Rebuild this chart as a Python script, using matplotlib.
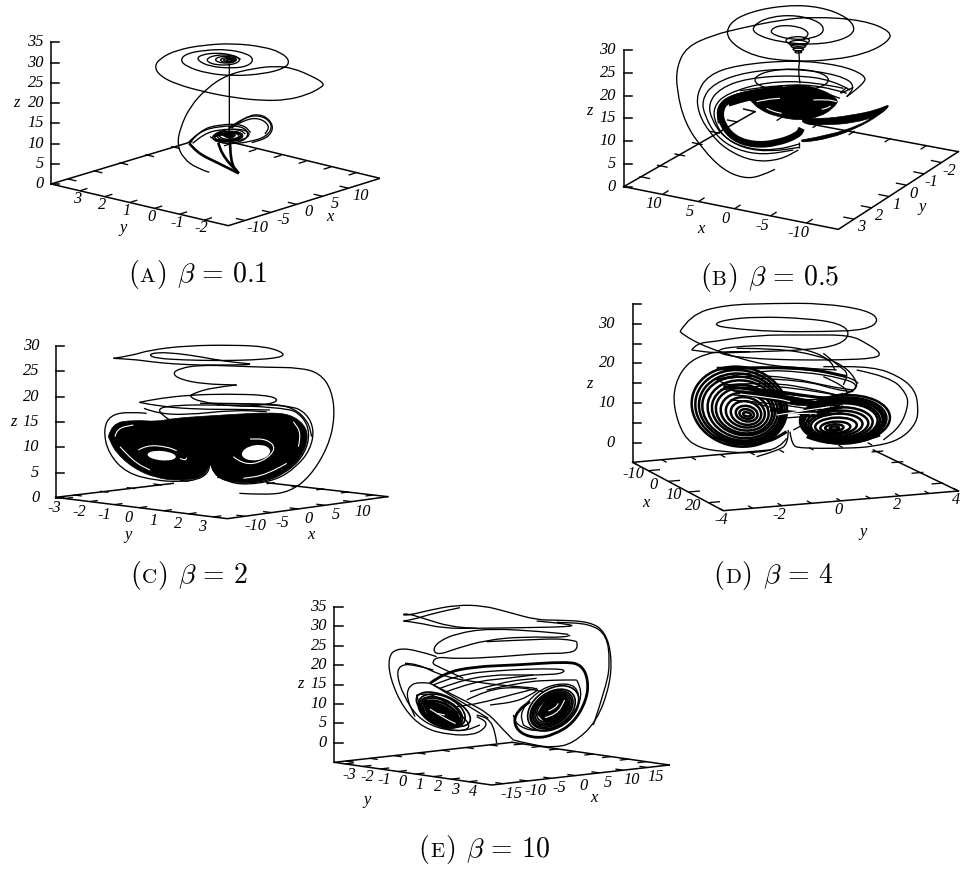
import numpy as np
import matplotlib
matplotlib.use('Agg')
import matplotlib.pyplot as plt
from matplotlib.path import Path
from matplotlib.patches import PathPatch, Ellipse

plt.rcParams['mathtext.fontset'] = 'cm'
plt.rcParams['font.family'] = 'Liberation Serif'

a_lines = [
    [(628,517),(590,505),(550,475),(532,435),(540,385),(570,320),(620,265),(680,225),(760,205),(830,198),(880,205),(935,228),(973,250),(965,262),(920,285),(860,300),(790,302),(700,293),(610,275),(530,253),(480,228),(463,200),(480,175),(530,150),(610,135),(700,130),(790,140),(845,158),(870,183),(855,205),(790,222),(700,228),(620,220),(560,200),(540,180),(560,160),(620,150),(680,148),(740,160),(762,178),(745,198),(700,205),(630,200),(590,180),(600,165),(650,158),(700,165),(722,178)],
    [(688,190),(688,300),(688,395)],
    [(685,385),(730,352),(785,345),(820,375),(800,410),(750,425),(700,432),(660,428),(630,410)],
    [(695,385),(735,348),(790,342),(823,378),(805,413),(755,428)],
    [(690,384),(735,358),(780,354),(810,378),(795,402)],
    [(565,428),(595,395),(660,378),(725,378),(748,400),(730,425),(670,432),(630,415),(655,395),(715,395)],
    [(570,428),(600,390),(660,373),(730,373),(752,398)],
    [(578,430),(610,402),(660,388),(718,388),(736,402)],
]
a_thick = [
    [(568,430),(590,458),(650,487),(716,520)],
    [(655,428),(663,462),(716,520)],
    [(690,415),(690,487),(716,520)],
    [(640,410),(690,393),(738,405),(690,424),(645,420)],
]
a_rings = [(670,180,96,30,0),(678,179,62,20,0),(684,180,44,14,0),(686,180,30,9,0),(688,181,18,5,0),
           (695,406,104,36,-4),(690,408,76,28,0),(688,408,58,20,0)]
a_fill = [[(665,405),(690,396),(712,405),(690,418)]]

b_lines = [
    [(585,508),(540,530),(490,535),(430,510),(370,450),(315,370),(290,270),(290,200),(320,140),(400,105),(480,85),(600,60),(700,50),(850,60),(935,95),(925,125),(860,160),(760,180),(640,185),(520,170),(440,120),(445,70),(510,35),(620,15),(720,20),(800,50),(830,90),(790,120),(700,135),(590,125),(520,100),(520,75),(570,50),(650,45),(720,65),(735,95),(700,115),(640,120),(580,105),(570,90),(600,75),(660,80),(690,100),(670,118)],
    [(655,150),(660,175),(655,210),(660,250)],
    [(800,290),(855,250),(855,225),(780,195),(640,180),(470,195),(385,225),(350,280),(355,340),(390,400),(440,450),(520,485),(600,480),(655,450)],
    [(800,290),(832,260),(780,225),(640,205),(500,215),(400,250),(365,300),(375,350),(410,410),(470,450),(550,465),(640,450)],
    [(810,270),(760,240),(640,225),(500,235),(420,265),(385,310),(395,360),(430,410),(490,445),(570,455),(658,442)],
    [(790,265),(700,245),(560,245),(440,280),(400,320),(405,370),(440,420),(510,448),(590,450),(658,432)],
    [(780,295),(700,265),(560,262),(450,285),(410,320),(415,370)],
    [(658,425),(658,445)],
    [(800,280),(720,255),(600,255),(480,272)],
    [(820,262),(770,288),(800,262)],
]
b_thick = [
    [(610,265),(510,280),(440,300),(420,330),(425,370),(460,415),(520,435),(590,430),(655,405),(665,385)],
    [(600,275),(510,290),(445,310)],
]
b_rings = [(635,240,220,65,0),(653,122,70,24,0),(655,130,56,18,0),(655,138,44,13,0),(655,148,32,8,0),(655,156,20,6,0)]
b_fill = [
    [(510,300),(610,255),(690,255),(780,295),(760,325),(720,350),(660,362),(590,350),(540,330)],
    [(665,355),(720,358),(820,345),(890,330),(935,310),(900,345),(820,370),(730,375),(670,372)],
    [(665,420),(750,405),(840,375),(880,350),(935,310),(900,345),(830,385),(750,415),(665,428)],
]
b_white = [
    [(530,305),(560,298),(600,295)],
    [(560,325),(575,333),(605,340)],
    [(725,328),(740,325),(752,318)],
    [(700,300),(740,298),(770,305)],
]

c_lines = [
    [(718,610),(800,615),(870,605),(930,560),(985,470),(1005,380),(995,300),(960,250),(900,233),(800,232),(700,228),(600,225),(540,235),(517,250),(540,268),(610,282),(710,285)],
    [(710,285),(640,292),(580,310),(568,320),(600,335),(700,350),(800,345),(840,330),(800,315),(680,312),(570,315),(480,325),(418,337)],
    [(418,337),(480,350),(600,358),(700,358),(810,360)],
    [(340,205),(390,198),(450,180),(560,167),(700,165),(800,170),(855,190),(840,203),(760,210),(660,212),(550,210),(470,205),(445,195),(470,187),(530,190),(600,200),(680,215),(770,223),(700,225),(600,225)],
    [(340,205),(400,208),(450,215),(520,222),(600,225)],
    [(440,370),(390,365),(330,375),(310,420),(325,490),(380,550),(470,572),(540,575),(590,570),(625,550),(630,515)],
    [(630,515),(640,550),(680,575),(740,585),(830,570),(890,530),(930,480),(943,420),(920,370),(870,345),(630,340)],
    [(650,345),(860,350),(910,380),(930,430),(915,490),(870,540),(800,575),(720,580)],
    [(432,355),(470,370),(560,375),(700,360),(800,365)],
    [(510,390),(460,360),(520,345),(660,345)],
    [(600,340),(800,340),(880,352),(925,395),(935,440)],
]
c_fill = [[(325,440),(335,400),(400,390),(470,395),(520,385),(620,378),(720,372),(800,368),(870,372),(915,405),(925,445),(905,500),(860,545),(800,572),(730,580),(670,572),(640,550),(630,515),(622,545),(600,565),(540,572),(470,565),(400,535),(345,485)]]
c_holes = [(485,497,85,28,5),(768,488,85,45,-8)]
c_white = [
    [(415,480),(440,465),(500,470),(530,482)],
    [(700,500),(730,525),(790,515),(830,475),(800,447),(750,447)],
    [(345,440),(350,415),(400,405)],
    [(895,470),(905,430),(880,395)],
    [(360,470),(400,515),(450,540)],
    [(860,520),(800,555),(730,565)],
    [(540,505),(555,512),(560,503)],
]

d_lines = [
    [(500,500),(570,480),(592,460),(595,420)],
    [(600,425),(605,465),(630,475),(770,475),(850,470),(930,450),(980,400),(985,350),(975,300),(930,260),(850,230),(700,230)],
    [(590,445),(570,475),(490,490),(400,485),(330,475),(280,440),(250,350),(255,280),(290,220),(350,190),(400,185),(480,185)],
    [(270,125),(300,75),(400,45),(550,40),(700,40),(830,60),(870,90),(830,120),(700,125),(550,125),(420,115),(370,105),(400,90),(500,80),(650,85),(750,100),(782,130),(750,165),(650,180),(500,185),(380,190),(305,180)],
    [(270,125),(300,150),(400,190),(520,225),(650,235),(740,240)],
    [(305,180),(320,160),(370,155),(500,135),(650,135),(780,135),(830,160),(875,190),(855,205),(750,210),(600,210),(480,205),(400,195),(380,180),(430,170),(550,165),(660,180),(720,210),(735,240)],
    [(440,175),(560,175),(680,195),(760,225),(800,270),(800,300),(740,320)],
    [(700,190),(750,230),(775,250),(760,285)],
    [(370,270),(500,240),(640,245),(760,265),(805,285),(780,310),(700,325),(560,310),(440,295),(380,270)],
    [(400,285),(540,275),(680,300),(760,320)],
    [(420,330),(560,340),(700,365),(760,340)],
    [(500,300),(640,340),(760,310)],
    [(560,385),(660,380),(720,370)],
    [(610,420),(650,400),(760,320)],
    [(380,240),(520,232),(680,240),(780,262),(805,280)],
    [(500,265),(640,270),(740,300),(790,305)],
    [(700,260),(770,290),(770,320)],
    [(800,240),(900,260),(950,310),(955,350),(930,410),(880,450)],
    [(380,270),(470,255),(600,262),(720,290),(790,300)],
    [(390,300),(500,285),(620,295),(740,315)],
    [(430,315),(560,320),(680,350),(750,345)],
    [(470,335),(580,360),(680,385),(760,365)],
]
d_thick = [
    [(400,290),(540,300),(660,320),(760,330)],
    [(540,360),(660,375),(760,350)],
    [(380,235),(500,232),(660,235),(770,260)],
    [(650,440),(700,460),(800,458),(870,435)],
    [(370,440),(460,465),(540,455),(590,425)],
]
d_rings = [(448,350,288,238,12),(450,352,270,222,12),(452,354,252,205,12),(454,356,236,190,12),(458,358,212,172,12),
           (460,360,190,150,12),(462,362,170,135,12),(464,365,145,112,12),(466,367,118,90,12),(468,369,92,70,12),
           (470,371,66,46,12),(470,372,44,28,12),(471,373,24,12,12),
           (765,388,270,145,-3),(762,390,255,135,-3),(760,392,246,128,-3),(758,393,240,124,-3),(755,395,230,118,-3),(752,396,222,112,-3),(748,400,200,96,-3),
           (745,403,180,82,-3),(740,405,155,68,-3),(738,408,125,50,-3),(736,412,90,34,-3),(733,413,55,20,-3),(733,414,28,9,-3)]
d_fill = [[(420,300),(520,305),(640,325),(720,345),(640,350),(560,335),(480,320)]]
d_white = [
    [(450,312),(560,325),(600,335)],
    [(560,375),(620,365),(720,350)],
    [(600,372),(630,370),(680,370)],
]

e_lines = [
    [(620,475),(615,435),(595,400),(560,390)],
    [(670,465),(640,435),(595,385),(530,350),(430,300),(420,295)],
    [(430,300),(530,360),(595,400)],
    [(670,465),(730,480),(790,488),(850,475),(920,410),(960,300),(965,210),(945,140),(900,110),(800,105),(740,105),(650,80),(580,62),(500,60),(420,75),(360,90),(335,90),(350,85),(400,100),(480,125),(560,130)],
    [(910,420),(950,300),(960,230),(950,150),(900,116),(800,112)],
    [(340,108),(365,105),(430,85),(510,68)],
    [(340,108),(380,112),(460,130),(560,130),(700,128),(850,125),(840,118),(740,108)],
    [(840,150),(835,158),(700,155),(590,165),(500,190),(445,210),(428,195),(445,170),(500,145),(600,130),(760,140),(835,148)],
    [(860,170),(865,190),(840,205),(750,205),(640,215),(500,222),(440,215),(425,235),(445,245),(520,280)],
    [(860,170),(830,160),(700,165),(590,170)],
    [(440,215),(380,195),(320,190),(295,215),(300,280),(340,370),(400,430),(480,450),(550,450),(585,430),(590,410),(560,395)],
    [(430,255),(370,238),(330,240),(320,270),(340,330),(380,395),(440,430),(520,440),(570,420)],
    [(420,295),(385,290),(355,305),(350,340),(375,395)],
    [(430,300),(500,270),(630,255),(810,250),(828,260),(790,270),(630,270)],
    [(450,310),(530,280),(630,270)],
    [(470,320),(550,290),(650,280),(730,270)],
    [(345,235),(380,235),(460,275),(580,295),(680,305),(750,310),(730,325),(680,350),(600,360)],
    [(740,310),(660,330),(570,355),(500,365)],
    [(530,345),(590,315),(680,305),(760,320)],
    [(590,315),(700,290),(800,285),(860,285)],
    [(860,285),(880,320),(855,385),(800,430),(730,440),(680,420),(670,390)],
    [(540,320),(640,290),(740,280)],
    [(700,420),(740,445),(820,425),(870,360),(860,300),(800,295),(740,320),(690,380),(700,420)],
    [(380,330),(420,320),(490,370),(545,420),(520,440),(450,430),(395,385),(380,330)],
]
e_thick = [
    [(420,295),(460,265),(550,245),(680,240),(830,230),(875,240),(895,285),(890,345),(850,415),(790,450),(740,460),(690,445),(670,410),(685,375),(720,350)],
]
e_rings = [(460,373,175,80,25),(455,378,150,88,25),(452,382,140,80,25),(452,382,130,72,25),(450,385,122,66,25),(450,385,112,60,25),(448,386,100,52,25),
           (790,370,170,115,-35),(788,372,150,100,-35),(786,372,140,92,-35),(786,372,130,85,-35),(785,372,122,78,-35),(785,372,112,72,-35),(785,372,100,64,-35)]
e_fill = [[(398,345),(450,352),(512,395),(518,428),(470,428),(412,398)],
          [(742,388),(762,342),(818,318),(838,345),(822,395),(770,418)]]
e_white = [
    [(440,385),(465,390)],
    [(775,378),(795,370),(805,355)],
    [(420,372),(460,398),(497,416)],
    [(765,398),(802,388),(824,345)],
]

z_five = [0, 5, 10, 15, 20, 25, 30, 35]
z_five_labels = ['0', '5', '10', '15', '20', '25', '30', '35']
z_thirty = [0, 5, 10, 15, 20, 25, 30]
z_thirty_labels = ['0', '5', '10', '15', '20', '25', '30']
z_d_labels = ['0', '', '10', '', '20', '', '30', '']

a_front = ([3, 2, 1, 0, -1, -2], ['3', '2', '1', '0', '-1', '-2'])
a_side = ([-10, -5, 0, 5, 10], ['-10', '-5', '0', '5', '10'])
b_front = ([10, 5, 0, -5, -10], ['10', '5', '0', '-5', '-10'])
b_side = ([3, 2, 1, 0, -1, -2], ['3', '2', '1', '0', '-1', '-2'])
c_front = ([-3, -2, -1, 0, 1, 2, 3], ['-3', '-2', '-1', '0', '1', '2', '3'])
c_side = ([-10, -5, 0, 5, 10], ['-10', '-5', '0', '5', '10'])
d_front = ([-10, 0, 10, 20], ['-10', '0', '10', '20'])
d_side = ([-4, -3, -2, -1, 0, 1, 2, 3, 4], ['-4', '', '-2', '', '0', '', '2', '', '4'])
e_front = ([-3, -2, -1, 0, 1, 2, 3, 4], ['-3', '-2', '-1', '0', '1', '2', '3', '4'])
e_side = ([-15, -10, -5, 0, 5, 10, 15], ['-15', '-10', '-5', '0', '5', '10', '15'])

LW = 0.95
TXT = 11.8


def smooth(pts):
    # quadratic pieces through the midpoints, read points act as control points
    pts = np.array(pts, dtype=float)
    verts = [pts[0]]
    codes = [Path.MOVETO]
    for i in range(1, len(pts) - 1):
        verts += [pts[i], (pts[i] + pts[i + 1]) / 2]
        codes += [Path.CURVE3, Path.CURVE3]
    verts.append(pts[-1])
    codes.append(Path.LINETO)
    return Path(verts, codes)


def along(a, b, v, va, vb):
    f = (v - va) / (vb - va)
    return np.array(a) + f * (np.array(b) - np.array(a))


def edge_ticks(ax, a, b, c, va, vb, ticks, labels, off, other):
    # a-b is the labelled edge, c shifts onto the opposite one, other is the tick vector
    for t, lab in zip(ticks, labels):
        p = along(a, b, t, va, vb)
        q = p + c
        ax.plot([p[0], p[0] + other[0]], [p[1], p[1] + other[1]], color='k', lw=LW, zorder=2, solid_capstyle='butt')
        ax.plot([q[0], q[0] - other[0]], [q[1], q[1] - other[1]], color='k', lw=LW, zorder=2, solid_capstyle='butt')
        if lab:
            ax.text(p[0] + off[0], p[1] + off[1], lab, style='italic', fontsize=TXT, ha='center', va='center')


def draw_frame(ax, left, bottom, right, front, side, zax, names, back_stops):
    left, bottom, right = np.array(left), np.array(bottom), np.array(right)
    ax.plot([left[0], bottom[0], right[0]], [left[1], bottom[1], right[1]], color='k', lw=LW + 0.15, zorder=2)
    for stop, start in back_stops:
        ax.plot([start[0], stop[0]], [start[1], stop[1]], color='k', lw=LW + 0.15, zorder=2)

    front_vec = 0.05 * (right - bottom)
    side_vec = 0.05 * (left - bottom)
    edge_ticks(ax, left, bottom, right - bottom, front['lim'][0], front['lim'][1], front['ticks'][0], front['ticks'][1], front['off'], front_vec)
    edge_ticks(ax, bottom, right, left - bottom, side['lim'][0], side['lim'][1], side['ticks'][0], side['ticks'][1], side['off'], side_vec)

    x, y0, y1, v0, v1 = zax['axis']
    ax.plot([x, x], [y0, y1], color='k', lw=LW + 0.15, zorder=2)
    for t, lab in zip(zax['ticks'], zax['labels']):
        yy = along((x, y0), (x, y1), t, v0, v1)[1]
        ax.plot([x, x + 25], [yy, yy], color='k', lw=LW + 0.15, zorder=2)
        if lab:
            ax.text(x - zax['pad'], yy, lab, style='italic', fontsize=TXT, ha='right', va='center')
    for name, (nx, ny) in names.items():
        ax.text(nx, ny, name, style='italic', fontsize=TXT, ha='center', va='center')


def draw_curves(ax, lines=(), thick=(), rings=(), fills=(), holes=(), whites=(), ring_lw=LW, thick_lw=3.0):
    for pts in fills:
        ax.add_patch(PathPatch(smooth(list(pts) + [pts[0]]), fc='k', ec='k', lw=0.5, zorder=4))
    for h in holes:
        ax.add_patch(Ellipse((h[0], h[1]), h[2], h[3], angle=h[4], fc='w', ec='none', zorder=5))
    for pts in whites:
        ax.add_patch(PathPatch(smooth(pts), fc='none', ec='w', lw=0.8, zorder=5))
    for pts in lines:
        ax.add_patch(PathPatch(smooth(pts), fc='none', ec='k', lw=LW, zorder=3))
    for pts in thick:
        ax.add_patch(PathPatch(smooth(pts), fc='none', ec='k', lw=thick_lw, zorder=3))
    for r in rings:
        ax.add_patch(Ellipse((r[0], r[1]), r[2], r[3], angle=r[4], fc='none', ec='k', lw=ring_lw, zorder=3))


def caption(ax, x, y, letter, formula):
    r = fig.canvas.get_renderer()
    inv = ax.transData.inverted()
    for s, size, gap in [('(', 20, 0), (letter, 15, 0), (')', 20, 11)]:
        t = ax.text(x, y, r'$\mathrm{%s}$' % s, fontsize=size, ha='left', va='baseline')
        x = inv.transform(t.get_window_extent(r))[1][0] + gap * 3
    ax.text(x, y, r'$\beta\,=\,%s$' % formula, fontsize=20, ha='left', va='baseline')


def panel(x0, y0, w, h):
    ax = fig.add_axes([x0 / 960, 1 - (y0 + h) / 869, w / 960, h / 869])
    ax.set_xlim(0, w * 3)
    ax.set_ylim(h * 3, 0)
    ax.set_axis_off()
    return ax


fig = plt.figure(figsize=(9.6, 8.69), dpi=100)

# (A)
ax = panel(0, 0, 380, 290)
draw_frame(ax, (153,552), (685,677), (1140,535),
           dict(lim=(4.16, -2.96), ticks=a_front, off=(-8, 25)),
           dict(lim=(-13.2, 16.1), ticks=a_side, off=(36, 22)),
           dict(axis=(153, 552, 127, 0, 35), ticks=z_five, labels=z_five_labels, pad=21),
           {'x': (990, 652), 'y': (370, 685), 'z': (48, 310)},
           [((575,425), (153,552)), ((700,428), (1140,535))])
draw_curves(ax, a_lines, a_thick, a_rings, a_fill, thick_lw=1.9)
caption(ax, 384, 845, 'A', '0.1')

# (B)
ax = panel(580, 0, 380, 290)
draw_frame(ax, (131,560), (775,688), (1135,455),
           dict(lim=(15.4, -14.4), ticks=b_front, off=(-26, 30)),
           dict(lim=(3.9, -2.96), ticks=b_side, off=(22, 25)),
           dict(axis=(131, 560, 150, 0, 30), ticks=z_thirty, labels=z_thirty_labels, pad=23),
           {'x': (362, 687), 'y': (1025, 620), 'z': (28, 332)},
           [((525,335), (131,560)), ((680,370), (1135,455)), ((491,327), (525,335))])
draw_curves(ax, b_lines, b_thick, b_rings, b_fill, (), b_white, thick_lw=4.8)
caption(ax, 360, 855, 'B', '0.5')

# (C)
ax = panel(0, 290, 400, 290)
draw_frame(ax, (167,622), (682,686), (1163,620),
           dict(lim=(-3.38, 3.57), ticks=c_front, off=(-32, 30)),
           dict(lim=(-13.3, 16.75), ticks=c_side, off=(32, 30)),
           dict(axis=(167, 624, 168, 0, 30), ticks=z_thirty, labels=z_thirty_labels, pad=49),
           {'x': (932, 734), 'y': (385, 734), 'z': (40, 395)},
           [((520,580), (167,622)), ((800,578), (1163,620))])
draw_curves(ax, c_lines, (), (), c_fill, c_holes, c_white)
caption(ax, 390, 880, 'C', '2')

# (D)
ax = panel(590, 290, 370, 300)
draw_frame(ax, (128,517), (400,662), (1105,603),
           dict(lim=(-17.8, 27.5), ticks=d_front, off=(-45, 10)),
           dict(lim=(-4, 4), ticks=d_side, off=(-7, 27)),
           dict(axis=(128, 517, 42, -5, 35), ticks=z_five, labels=z_d_labels, pad=53),
           {'x': (168, 640), 'y': (820, 725), 'z': (-2, 283)},
           [((540,480), (128,517)), ((850,480), (1105,603))])
draw_curves(ax, d_lines, d_thick, d_rings, d_fill, (), d_white, ring_lw=LW * 1.9, thick_lw=2.2)
caption(ax, 370, 880, 'D', '4')

# (E)
ax = panel(290, 585, 380, 284)
draw_frame(ax, (133,532), (605,600), (1138,540),
           dict(lim=(-3.6, 5.3), ticks=e_front, off=(13, 32)),
           dict(lim=(-17.4, 19.6), ticks=e_side, off=(25, 30)),
           dict(axis=(133, 532, 65, -5, 35), ticks=z_five, labels=z_five_labels, pad=22),
           {'x': (912, 640), 'y': (232, 645), 'z': (30, 298)},
           [((666,472), (133,532)), ((666,472), (1138,540))])
draw_curves(ax, e_lines, e_thick, e_rings, e_fill, (), e_white, ring_lw=LW * 1.3, thick_lw=2.0)
caption(ax, 385, 815, 'E', '10')

fig.savefig('out.png', dpi=100)
